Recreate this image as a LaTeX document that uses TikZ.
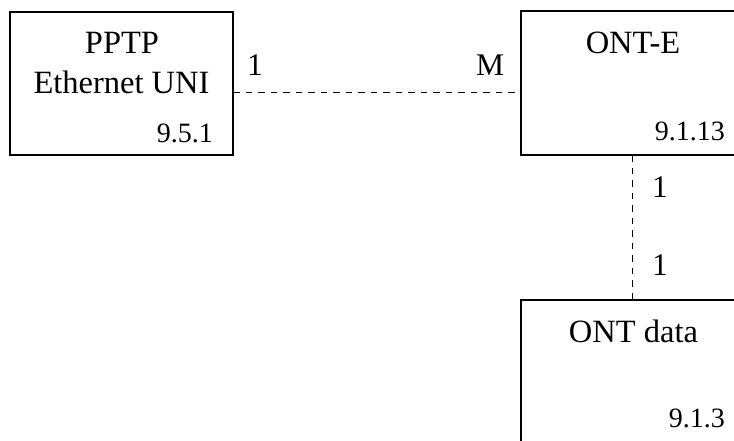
\documentclass[tikz,border=0pt]{standalone}
\usepackage{fontspec}
\setmainfont{Liberation Serif}
\begin{document}
\begin{tikzpicture}[x=1pt,y=-1pt,
  box/.style={draw=black, line width=2.2pt, rectangle, inner sep=0pt, outer sep=0pt},
  dashline/.style={draw=black, line width=1.9pt, dash pattern=on 6.5pt off 6pt},
  maintext/.style={inner sep=0pt, anchor=base, font=\fontsize{32.5}{38}\selectfont},
  numtext/.style={inner sep=0pt, anchor=base east, font=\fontsize{28}{33}\selectfont},
  multtext/.style={inner sep=0pt, anchor=base west, font=\fontsize{31.5}{36}\selectfont}]
\useasboundingbox (0,0) rectangle (734,440);
\clip (0,0) rectangle (734,440);
\fill[white] (0,0) rectangle (734,440);
% boxes
\node[box, minimum width=223pt, minimum height=143pt] (pptp) at (121.5,83.5) {};
\node[box, minimum width=240pt, minimum height=144pt] (onte) at (641,83) {};
\node[box, minimum width=240pt, minimum height=180pt] (ontdata) at (641,390) {};
% texts
\node[maintext] (pptpA) at (122,53) {PPTP};
\node[maintext] (pptpB) at (121.5,93) {Ethernet UNI};
\node[numtext] (pptpN) at (213,142) {9.5.1};
\node[maintext] (onteA) at (633,53) {ONT-E};
\node[numtext] (onteN) at (725,140) {9.1.13};
\node[maintext] (ontdA) at (633.5,342) {ONT data};
\node[numtext] (ontdN) at (725,427) {9.1.3};
% connectors
\draw[dashline] ([yshift=-9pt]pptp.east) -- ([yshift=-9pt]pptp.east -| onte.west);
\draw[dashline] ([xshift=-8.5pt]onte.south) -- ([xshift=-8.5pt]onte.south |- ontdata.north);
% multiplicities
\node[multtext] (m1) at (247,75) {1};
\node[multtext] (m2) at (476,75) {M};
\node[multtext] (m3) at (652,197) {1};
\node[multtext] (m4) at (652,275) {1};
\end{tikzpicture}
\end{document}
